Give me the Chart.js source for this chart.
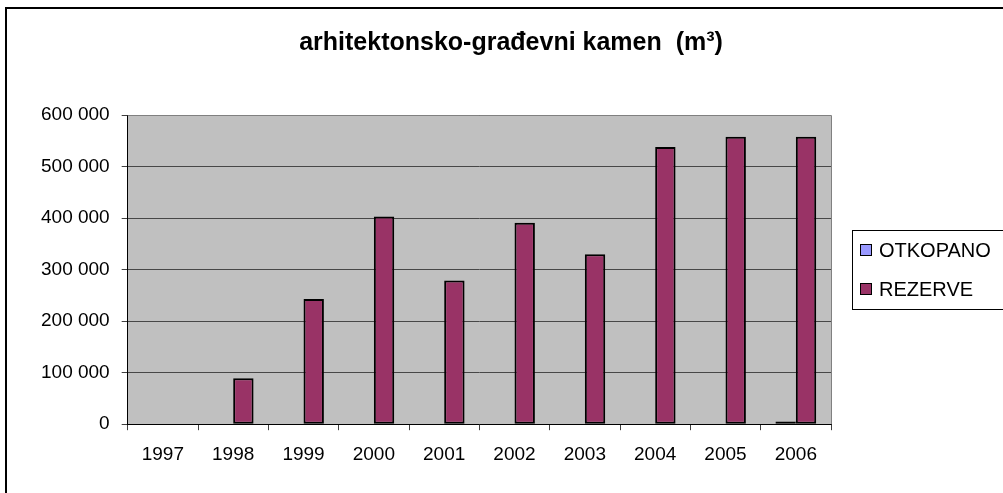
<!DOCTYPE html>
<html>
<head>
<meta charset="utf-8">
<script src="https://cdn.jsdelivr.net/npm/chart.js@4/dist/chart.umd.min.js"></script>
<style>
  body { margin: 0; background: #fff; }
  #wrap { width: 1003px; height: 493px; position: relative; }
</style>
</head>
<body>
<div id="wrap"><canvas id="myChart"></canvas></div>
<script>
const years = ['1997','1998','1999','2000','2001','2002','2003','2004','2005','2006']
const otkopano = [0, 0, 0, 0, 0, 0, 0, 0, 0, 5000]
const rezerve = [0, 89000, 243000, 403000, 279000, 391000, 330000, 538000, 558000, 558000]
const yTicks = [0, 100000, 200000, 300000, 400000, 500000, 600000]
const title = 'arhitektonsko-građevni kamen  (m³)'

const font = 'Liberation Sans, Arial, sans-serif'

function spaced(v) {
    return String(v).replace(/\B(?=(\d{3})+(?!\d))/g, ' ')
}

// grey plot background + frame, outer border, title and boxed legend
const decor = {
    id: 'decor',
    beforeDraw(chart) {
        const {ctx, chartArea: a} = chart
        ctx.save()
        ctx.fillStyle = '#c0c0c0'
        ctx.fillRect(a.left, a.top, a.right - a.left, a.bottom - a.top)
        ctx.restore()
    },
    beforeDatasetsDraw(chart) {
        const {ctx, chartArea: a} = chart
        ctx.save()
        ctx.strokeStyle = '#808080'
        ctx.lineWidth = 1
        ctx.beginPath()
        ctx.moveTo(a.left, a.top + 0.5)
        ctx.lineTo(a.right + 0.5, a.top + 0.5)
        ctx.lineTo(a.right + 0.5, a.bottom)
        ctx.stroke()
        ctx.restore()
    },
    afterDraw(chart) {
        const ctx = chart.ctx
        ctx.save()
        // outer frame (right/bottom edges fall outside the picture)
        ctx.strokeStyle = '#000'
        ctx.lineWidth = 2
        ctx.strokeRect(6, 8, 1100, 600)

        // title
        ctx.fillStyle = '#000'
        ctx.font = 'bold 25px ' + font
        ctx.textAlign = 'center'
        ctx.textBaseline = 'alphabetic'
        ctx.fillText(title, 511, 50)

        // legend
        ctx.lineWidth = 1
        ctx.strokeRect(852.5, 230.5, 200, 79)
        ctx.font = '20px ' + font
        ctx.textAlign = 'left'
        ctx.textBaseline = 'middle'
        chart.data.datasets.forEach((ds, i) => {
            const cy = 250 + i * 39
            ctx.fillStyle = ds.backgroundColor
            ctx.fillRect(860, cy - 6, 12, 12)
            ctx.strokeStyle = '#000'
            ctx.strokeRect(860.5, cy - 5.5, 11, 11)
            ctx.fillStyle = '#000'
            ctx.fillText(ds.label, 879, cy + 1)
        })
        ctx.restore()
    }
}

const myChart = new Chart(document.getElementById('myChart'), {
    type: 'bar',
    data: {
        labels: years,
        datasets: [{
            label: 'OTKOPANO',
            data: otkopano,
            backgroundColor: '#9999ff',
            borderColor: '#000000',
            borderWidth: 2,
            borderSkipped: false
        }, {
            label: 'REZERVE',
            data: rezerve,
            backgroundColor: '#993366',
            borderColor: '#000000',
            borderWidth: 2,
            borderSkipped: false
        }]
    },
    options: {
        responsive: true,
        maintainAspectRatio: false,
        animation: false,
        datasets: {
            bar: {
                categoryPercentage: 0.58,
                barPercentage: 1.0
            }
        },
        layout: {
            padding: { top: 115, left: 29, right: 172, bottom: 14 }
        },
        plugins: {
            legend: { display: false },
            title: { display: false },
            tooltip: { enabled: false }
        },
        scales: {
            x: {
                grid: {
                    display: true,
                    drawOnChartArea: false,
                    drawTicks: true,
                    tickLength: 6,
                    tickColor: '#404040'
                },
                border: { color: '#000000', width: 1 },
                ticks: {
                    color: '#000000',
                    padding: 13,
                    font: { family: font, size: 19 }
                }
            },
            y: {
                min: 0,
                max: 600000,
                afterBuildTicks(scale) {
                    scale.ticks = yTicks.map(v => ({ value: v }))
                },
                grid: {
                    color: '#474747',
                    tickColor: '#404040',
                    tickLength: 6
                },
                border: { color: '#000000', width: 1 },
                ticks: {
                    color: '#000000',
                    padding: 12,
                    font: { family: font, size: 19 },
                    callback: v => spaced(v)
                }
            }
        }
    },
    plugins: [decor]
})
</script>
</body>
</html>
